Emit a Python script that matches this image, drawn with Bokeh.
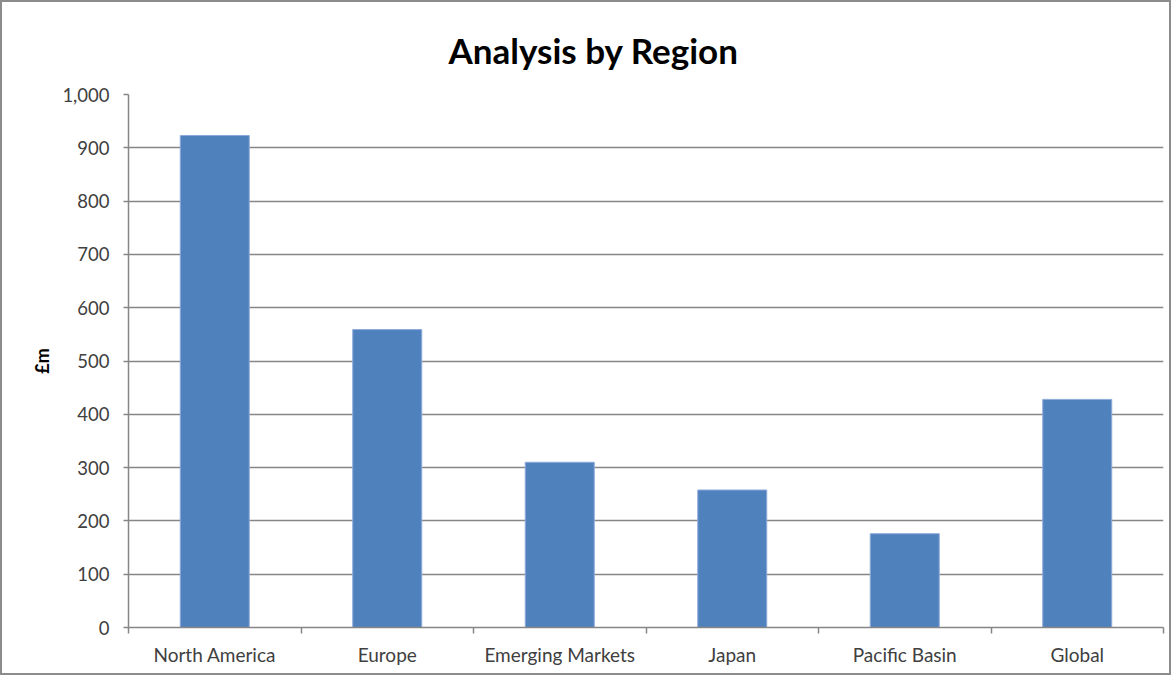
from bokeh.plotting import figure
from bokeh.models import FixedTicker, NumeralTickFormatter, Range1d, ColumnDataSource
from bokeh.embed import file_html
from bokeh.resources import INLINE

# Funds under management by region (£m)
regions = ["North America", "Europe", "Emerging Markets", "Japan", "Pacific Basin", "Global"]
values = [923, 559, 310, 258, 176, 428]
y_ticks = [0, 100, 200, 300, 400, 500, 600, 700, 800, 900, 1000]

centers = [i + 0.5 for i in range(len(regions))]
source = ColumnDataSource(data=dict(x=centers, top=values, region=regions))

FONT = "Lato"
GRID = "#868686"
TEXT = "#404040"

p = figure(
    width=1171, height=675,
    x_range=Range1d(0, len(regions)), y_range=Range1d(0, 1000),
    output_backend="svg", toolbar_location=None,
    title="Analysis by Region",
    min_border_left=126, min_border_right=10, min_border_top=92, min_border_bottom=50,
)
p.styles = {"border": "2px solid #8c8c8c"}

# title placed so it sits centred over the whole chart
p.title.align = "left"
p.title.text_font = FONT
p.title.text_font_size = "35px"
p.title.text_font_style = "bold"
p.title.text_color = "#000000"
p.title.standoff = 48
p.title.offset = 320

p.vbar(x="x", top="top", width=0.4, source=source,
       fill_color="#4F81BD", line_color="#8EAADB", line_width=1)

# y axis
p.yaxis.ticker = FixedTicker(ticks=y_ticks)
p.yaxis.formatter = NumeralTickFormatter(format="0,0")
p.yaxis.axis_label = "£m"
p.yaxis.axis_label_text_font = FONT
p.yaxis.axis_label_text_font_size = "18px"
p.yaxis.axis_label_text_font_style = "bold"
p.yaxis.axis_label_text_color = "#000000"
p.yaxis.axis_label_standoff = 6
p.yaxis.major_label_text_font = FONT
p.yaxis.major_label_text_font_size = "18.5px"
p.yaxis.major_label_text_color = TEXT
p.yaxis.major_label_standoff = 14
p.yaxis.axis_line_color = GRID
p.yaxis.axis_line_width = 1.5
p.yaxis.major_tick_line_color = GRID
p.yaxis.major_tick_line_width = 1.5
p.yaxis.major_tick_out = 5
p.yaxis.major_tick_in = 0
p.yaxis.minor_tick_line_color = None

# x axis: labels at bar centres, tick marks on category boundaries
p.xaxis.ticker = FixedTicker(ticks=centers, minor_ticks=list(range(len(regions) + 1)))
p.xaxis.major_label_overrides = {c: r for c, r in zip(centers, regions)}
p.xaxis.major_label_text_font = FONT
p.xaxis.major_label_text_font_size = "19px"
p.xaxis.major_label_text_color = TEXT
p.xaxis.major_label_standoff = 9
p.xaxis.major_tick_line_color = None
p.xaxis.minor_tick_line_color = GRID
p.xaxis.minor_tick_line_width = 1.5
p.xaxis.minor_tick_out = 6
p.xaxis.minor_tick_in = 0
p.xaxis.axis_line_color = GRID
p.xaxis.axis_line_width = 1.5

p.xgrid.grid_line_color = None
p.ygrid.grid_line_color = GRID
p.ygrid.grid_line_width = 1.5

p.outline_line_color = None
p.background_fill_color = "white"
p.border_fill_color = "white"

open("out.html", "w").write(file_html(p, INLINE))
